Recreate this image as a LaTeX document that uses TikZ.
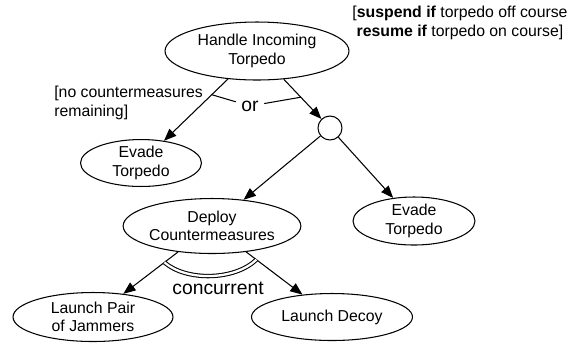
\documentclass[tikz,border=0pt]{standalone}
\usepackage{fontspec}
\setmainfont{Liberation Sans}
\usetikzlibrary{calc,arrows.meta,shapes.geometric}

\begin{document}
\begin{tikzpicture}[x=0.02cm,y=-0.02cm,
  goal/.style={ellipse,draw,line width=0.6pt,align=center,inner sep=0pt,font=\fontsize{9}{10.5}\selectfont},
  link/.style={line width=0.6pt,-{Triangle[length=7pt,width=5.5pt]}},
  tag/.style={font=\fontsize{9}{10.5}\selectfont,inner sep=0pt}]
\useasboundingbox (0,0) rectangle (575,343);
\node[goal,minimum width=3.68cm,minimum height=1.16cm] (handle) at (257,51) {Handle Incoming\\Torpedo};
\node[goal,minimum width=2.42cm,minimum height=0.84cm] (evadeL) at (141,163) {Evade\\Torpedo};
\node[circle,draw,line width=0.6pt,minimum size=0.48cm,inner sep=0pt] (choice) at (330,128) {};
\node[goal,minimum width=2.44cm,minimum height=0.96cm] (evadeR) at (414,221) {Evade\\Torpedo};
\node[goal,minimum width=3.52cm,minimum height=1.1cm] (deploy) at (212,226) {Deploy\\Countermeasures};
\node[goal,minimum width=3.2cm,minimum height=0.98cm] (jammers) at (93,317) {Launch Pair\\of Jammers};
\node[goal,minimum width=3.22cm,minimum height=0.94cm] (decoy) at (332,317) {Launch Decoy};
% conditions
\node[tag,align=left,anchor=west] (guard) at (54,103) {[no countermeasures\\remaining]};
\node[tag,align=center] (resume) at (460,23) {[\textbf{suspend if} torpedo off course\\\textbf{resume if} torpedo on course]};
% links
\draw[link] (handle) -- (evadeL);
\draw[link] (handle) -- (choice);
\draw[link] (choice) -- (deploy);
\draw[link] (choice) -- (evadeR);
\draw[link] (deploy) -- (jammers);
\draw[link] (deploy) -- (decoy);
% or
\coordinate (orL) at ($(handle)!0.39!(evadeL)$);
\coordinate (orR) at ($(handle)!0.6!(choice)$);
\node[font=\fontsize{11}{13}\selectfont,inner sep=3pt] (or) at (250,106) {or};
\draw[line width=0.6pt] (orL) -- (or) -- (orR);
% concurrent
\coordinate (ccL) at ($(deploy)!0.4!(jammers)$);
\coordinate (ccR) at ($(deploy)!0.37!(decoy)$);
\draw[line width=0.6pt,double,double distance=1.3pt] (ccL) .. controls +(22,19) and +(-22,21) .. (ccR);
\node[font=\fontsize{11}{13}\selectfont,inner sep=0pt] (conc) at (218,288) {concurrent};
\end{tikzpicture}
\end{document}
